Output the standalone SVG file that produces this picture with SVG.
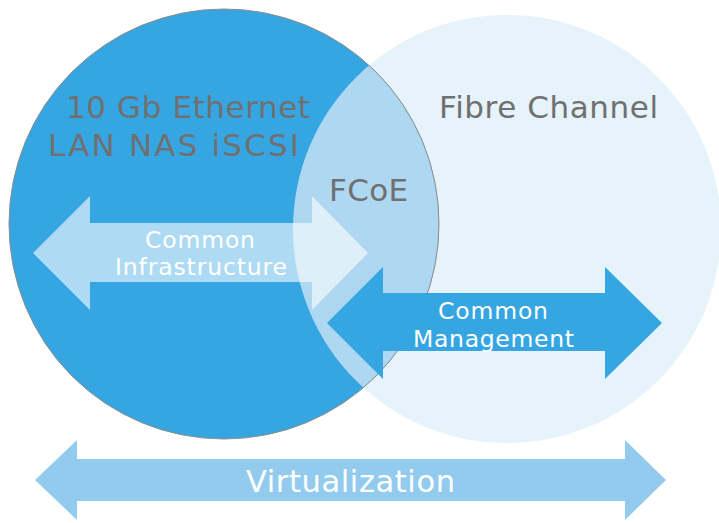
<svg xmlns="http://www.w3.org/2000/svg" width="719" height="523" viewBox="0 0 719 523">
<style>
.gray{fill:#707070;font-family:"DejaVu Sans",Verdana,sans-serif;font-size:31px;}
.white{fill:#ffffff;font-family:"DejaVu Sans",Verdana,sans-serif;font-size:23.5px;}
.big{font-size:30.5px;}
</style>
<defs>
<clipPath id="clipRight"><circle cx="507" cy="229" r="214"/></clipPath>
</defs>
<rect width="719" height="523" fill="#ffffff"/>
<g id="fibre-channel">
<circle cx="507" cy="229" r="214" fill="#e6f3fb"/>
</g>
<g id="ethernet">
<circle cx="224" cy="224" r="215" fill="#35a6e2"/>
</g>
<g id="fcoe">
<circle cx="224" cy="224" r="215" fill="#aed7f1" clip-path="url(#clipRight)"/>
<circle cx="224" cy="224" r="215" fill="none" stroke="#8c8c8c" stroke-width="1"/>
</g>
<g id="connectors">
<g id="infrastructure-arrow">
<polygon points="33,253 90,196 90,223 312,223 312,196 368,253 312,310 312,282 90,282 90,310" fill="#ffffff" fill-opacity="0.6"/>
</g>
<g id="management-arrow">
<polygon points="327,323 383,267 383,293 605,293 605,267 662,323 605,379 605,351 383,351 383,379" fill="#35a6e2"/>
</g>
<g id="virtualization-arrow">
<polygon points="35,480 77,440 77,459 625,459 625,440 666,480 625,520 625,501 77,501 77,520" fill="#93cbef"/>
</g>
</g>
<g id="labels">
<text class="gray" x="66" y="118" textLength="244" lengthAdjust="spacing">10 Gb Ethernet</text>
<text class="gray" x="48" y="156" textLength="251" lengthAdjust="spacing">LAN NAS iSCSI</text>
<text class="gray" x="439" y="118" textLength="219" lengthAdjust="spacing">Fibre Channel</text>
<text class="gray" x="329" y="201" textLength="79" lengthAdjust="spacing">FCoE</text>
<text class="white" x="145" y="248" textLength="110" lengthAdjust="spacing">Common</text>
<text class="white" x="115" y="275" textLength="172" lengthAdjust="spacing">Infrastructure</text>
<text class="white" x="438" y="319" textLength="110" lengthAdjust="spacing">Common</text>
<text class="white" x="413" y="347" textLength="161" lengthAdjust="spacing">Management</text>
<text class="white big" x="246" y="492" textLength="209" lengthAdjust="spacing">Virtualization</text>
</g>
</svg>
